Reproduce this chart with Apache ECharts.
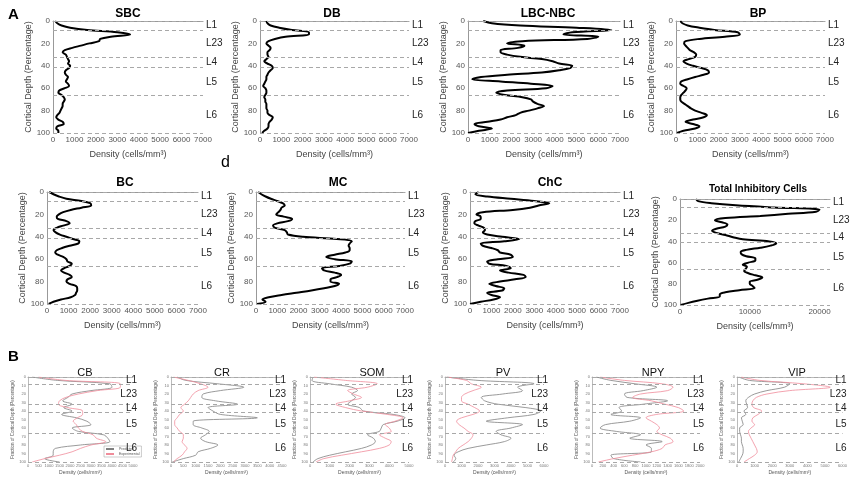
<!DOCTYPE html>
<html>
<head>
<meta charset="utf-8">
<script src="https://cdn.jsdelivr.net/npm/echarts@6/dist/echarts.min.js"></script>
<style>
html, body { margin: 0; padding: 0; background: #fff; }
#chart { width: 850px; height: 479px; }
</style>
</head>
<body>
<div id="chart"></div>
<script>
// depth samples (percent of cortical depth)
const depthA = [0,2,4,6,8,10,12,14,16,18,20,22,24,26,28,30,32,34,36,38,40,42,44,46,48,50,
                52,54,56,58,60,62,64,66,68,70,72,74,76,78,80,82,84,86,88,90,92,94,96,98,100];
const depthB = [0,4,8,12,16,20,24,28,32,36,40,44,48,52,56,60,64,68,72,76,80,84,88,92,96,100];

// panel A densities (cells/mm3), one value per depthA sample
const sbc = [100,200,400,800,1600,3000,3600,2700,2200,2150,1700,1300,900,550,450,600,650,700,750,700,800,750,600,550,600,700,
             650,600,700,750,550,300,250,400,500,550,500,450,450,400,350,300,200,150,250,450,500,200,150,250,250];
const db = [300,350,500,900,1500,2300,2300,1200,700,400,300,400,500,450,350,350,400,300,200,350,550,600,500,400,350,300,
            300,250,200,150,250,300,300,250,200,250,250,300,300,300,350,350,450,600,550,450,400,400,350,200,100];
const lbc = [700,1100,2400,5000,6600,4800,4400,6000,5500,2500,1800,2600,2300,1500,1500,1800,2400,3400,3900,4200,4800,4700,4200,3400,1800,600,
             200,1500,2900,3900,3600,1800,1300,1700,2500,2900,3000,3200,3500,3200,2800,2400,2200,1800,1500,900,300,500,1100,500,0];
const bp = [200,300,550,1100,1800,2900,3000,2300,1100,450,380,450,550,650,850,950,900,600,350,500,800,1200,1500,1550,1300,900,
            550,250,200,350,500,450,350,250,200,200,250,400,550,700,900,1200,1450,1300,800,450,800,1100,900,350,50];
const bc = [100,300,550,900,1600,2000,2050,1600,1100,750,550,450,500,900,1050,750,450,300,400,600,900,1200,1500,1450,1050,700,
            450,380,500,750,900,950,1150,1050,800,650,800,1050,1150,950,900,1050,1350,1400,1400,1350,1300,1100,650,300,80];
const mc = [100,250,450,700,1000,1250,1350,1200,1150,1050,950,1300,1700,1500,1000,800,900,1350,1450,1500,2200,3800,4500,4400,4350,4400,
            4400,4200,3700,3300,3700,4500,4400,3900,3100,3200,3700,4000,3800,3500,3500,3900,3700,3200,2600,1900,1200,600,300,450,50];
const chc = [400,250,800,1900,3000,3700,3200,2800,2000,600,300,500,500,250,200,400,650,700,600,800,1500,2300,1600,500,600,1000,
             1300,1400,1900,2000,1300,800,900,1700,1900,1400,1800,2500,2600,2100,1400,900,1200,1600,1500,800,1000,1400,1100,500,0];
const total = [2300,2600,4500,8000,13500,20000,19500,15500,11500,6500,5000,6000,6800,6500,5200,4600,5200,6500,7600,9000,12800,13800,13000,11500,9500,8700,
               8800,9500,10800,10800,9800,9000,9600,9400,9200,9800,10800,11800,11200,10000,10000,10400,10700,8500,6500,5700,5700,4000,2500,1200,100];

// panel B densities, one value per depthB sample
const cbPred = [200,1400,3900,4000,3000,2100,1900,1650,2100,1700,2100,1600,2300,2800,3000,2100,2400,3600,3800,3900,2500,1300,1200,1200,800,1500];
const cbExp  = [500,1800,4400,4400,3300,2400,1800,1500,1450,1900,2600,2600,2350,2150,2300,2400,2600,3100,3250,3700,3000,2500,2100,1500,800,200];
const crPred = [250,600,1900,2950,2000,1300,1250,1800,2700,1500,1700,2000,3500,900,900,1250,1550,1400,1200,1400,1900,1600,1100,1000,500,50];
const crExp  = [100,700,1200,1500,1100,900,800,700,550,400,500,350,250,150,150,250,350,500,500,450,550,650,550,450,250,100];
const somPred = [150,100,1000,2100,2400,2100,2300,2100,1900,2500,2700,4200,4800,4400,3700,3600,3500,2900,3200,3300,3100,2600,1800,1000,400,150];
const somExp  = [200,1800,3400,2900,1900,2200,2600,2000,1300,1800,2600,3900,4700,4300,3800,4000,4100,3500,3800,4100,4000,3500,2600,1600,700,300];
const pvPred = [100,2000,5400,4400,4700,3500,2200,2400,3200,4900,5800,5400,3800,2500,4700,4000,3100,3400,4000,3600,2500,1400,800,550,650,500];
const pvExp  = [100,1300,1600,2200,1700,1200,1000,1000,1400,1800,2100,1700,1000,700,850,1150,1400,1700,1600,1400,1100,800,650,500,450,400];
const npyPred = [80,350,800,1200,950,600,650,1400,950,500,550,350,900,700,250,150,450,900,700,1300,1000,1100,1100,350,400,900];
const npyExp  = [150,600,1300,1500,1400,900,750,1100,1350,1600,1700,1200,1000,1100,1200,1250,1200,1300,1450,1500,1350,1300,1100,750,400,120];
const vipPred = [100,700,3000,2700,1700,1000,650,500,550,600,400,500,250,300,350,150,150,200,250,250,300,350,350,300,200,100];
const vipExp  = [250,1300,3800,5300,3000,1700,1100,900,850,950,1400,1200,900,850,1000,800,650,700,800,900,1000,1100,1150,1000,700,400];

// layer boundaries and label positions
const layerLines = [0, 8, 32, 41, 66, 100];
const layerNames = ['L1', 'L23', 'L4', 'L5', 'L6'];
const layerMids = [3.5, 20, 36.5, 55, 84];

const FONT = 'Liberation Sans, Arial, sans-serif';
const plain = v => String(v);

const panelsA = [
    {title: 'SBC', values: sbc, max: 7000, interval: 1000, box: [53, 21, 150, 112], tx: 123, ty: 3},
    {title: 'DB', values: db, max: 7000, interval: 1000, box: [260, 21, 149, 112], tx: 327, ty: 3},
    {title: 'LBC-NBC', values: lbc, max: 7000, interval: 1000, box: [468, 21, 152, 112], tx: 543, ty: 3},
    {title: 'BP', values: bp, max: 7000, interval: 1000, box: [676, 21, 149, 112], tx: 753, ty: 3},
    {title: 'BC', values: bc, max: 7000, interval: 1000, box: [47, 192, 151, 112], tx: 120, ty: 172},
    {title: 'MC', values: mc, max: 7000, interval: 1000, box: [256, 192, 149, 112], tx: 333, ty: 172},
    {title: 'ChC', values: chc, max: 7000, interval: 1000, box: [470, 192, 150, 112], tx: 545, ty: 172},
    {title: 'Total Inhibitory Cells', values: total, max: 21500, interval: 10000, box: [680, 199, 150, 106], tx: 753, ty: 179, small: true}
];

const panelsB = [
    {title: 'CB', pred: cbPred, exp: cbExp, max: 5000, interval: 500, box: [28, 377, 105, 85], tx: 80},
    {title: 'CR', pred: crPred, exp: crExp, max: 4500, interval: 500, box: [171, 377, 111, 85], tx: 217},
    {title: 'SOM', pred: somPred, exp: somExp, max: 5000, interval: 1000, box: [310, 377, 99, 85], tx: 367},
    {title: 'PV', pred: pvPred, exp: pvExp, max: 6000, interval: 1000, box: [445, 377, 99, 85], tx: 498},
    {title: 'NPY', pred: npyPred, exp: npyExp, max: 2000, interval: 200, box: [592, 377, 108, 85], tx: 648},
    {title: 'VIP', pred: vipPred, exp: vipExp, max: 6000, interval: 1000, box: [737, 377, 106, 85], tx: 792}
];

let grids = [], xAxes = [], yAxes = [], series = [], titles = [];

function layerMarks(max, fontSize, inside) {
    return {
        markLine: {
            silent: true, symbol: 'none', animation: false,
            label: {show: false},
            lineStyle: {color: '#a8a8a8', type: [4, 3], width: 1},
            data: layerLines.map(v => ({yAxis: v}))
        },
        markPoint: {
            silent: true, symbol: 'circle', symbolSize: 0, animation: false,
            label: {
                show: true, formatter: '{b}', fontFamily: FONT, fontSize: fontSize, color: '#222',
                position: inside ? 'left' : 'right', distance: inside ? -4 : 3
            },
            data: layerNames.map((n, k) => ({name: n, coord: [max, layerMids[k]]}))
        }
    };
}

panelsA.forEach((p, i) => {
    grids.push({left: p.box[0], top: p.box[1], width: p.box[2], height: p.box[3]});
    xAxes.push({
        gridIndex: i, type: 'value', min: 0, max: p.max, interval: p.interval,
        name: 'Density (cells/mm³)', nameLocation: 'middle', nameGap: 17,
        nameTextStyle: {fontFamily: FONT, fontSize: 9, color: '#444'},
        axisLine: {lineStyle: {color: '#999'}}, axisTick: {show: false},
        axisLabel: {fontFamily: FONT, fontSize: 8, color: '#555', margin: 3, formatter: plain,
                    showMaxLabel: p.max % p.interval == 0},
        splitLine: {show: false}
    });
    yAxes.push({
        gridIndex: i, type: 'value', inverse: true, min: 0, max: 100, interval: 20,
        name: 'Cortical Depth (Percentage)', nameLocation: 'middle', nameGap: 20,
        nameTextStyle: {fontFamily: FONT, fontSize: 9, color: '#444'},
        axisLine: {show: true, lineStyle: {color: '#999'}}, axisTick: {show: false},
        axisLabel: {fontFamily: FONT, fontSize: 8, color: '#555', margin: 3},
        splitLine: {show: false}
    });
    series.push(Object.assign({
        type: 'line', xAxisIndex: i, yAxisIndex: i, symbol: 'none', smooth: 0.35,
        data: p.values.map((v, k) => [v, depthA[k]]),
        lineStyle: {color: '#000', width: 2}
    }, layerMarks(p.max, 10, false)));
    titles.push({
        text: p.title, left: p.tx, top: p.ty, textAlign: 'center',
        textStyle: {fontFamily: FONT, fontWeight: 'bold', fontSize: p.small ? 10 : 12, color: '#000'}
    });
});

panelsB.forEach((p, j) => {
    let i = panelsA.length + j;
    grids.push({left: p.box[0], top: p.box[1], width: p.box[2], height: p.box[3]});
    xAxes.push({
        gridIndex: i, type: 'value', min: 0, max: p.max, interval: p.interval,
        name: 'Density (cells/mm³)', nameLocation: 'middle', nameGap: 8,
        nameTextStyle: {fontFamily: FONT, fontSize: 5, color: '#555'},
        axisLine: {lineStyle: {color: '#bbb'}}, axisTick: {show: false},
        axisLabel: {fontFamily: FONT, fontSize: 4, color: '#777', margin: 2, formatter: plain},
        splitLine: {show: false}
    });
    yAxes.push({
        gridIndex: i, type: 'value', inverse: true, min: 0, max: 100, interval: 10,
        name: 'Fraction of Cortical Depth (Percentage)', nameLocation: 'middle', nameGap: 13,
        nameTextStyle: {fontFamily: FONT, fontSize: 4.5, color: '#555'},
        axisLine: {show: true, lineStyle: {color: '#bbb'}}, axisTick: {show: false},
        axisLabel: {fontFamily: FONT, fontSize: 4, color: '#777', margin: 2},
        splitLine: {show: false}
    });
    series.push(Object.assign({
        name: 'Predicted', type: 'line', xAxisIndex: i, yAxisIndex: i, symbol: 'none', smooth: 0.35,
        data: p.pred.map((v, k) => [v, depthB[k]]),
        lineStyle: {color: '#808080', width: 0.8}, itemStyle: {color: '#808080'}
    }, layerMarks(p.max, 10, true)));
    series.push({
        name: 'Experimental', type: 'line', xAxisIndex: i, yAxisIndex: i, symbol: 'none', smooth: 0.35,
        data: p.exp.map((v, k) => [v, depthB[k]]),
        lineStyle: {color: '#f08c9a', width: 0.8}, itemStyle: {color: '#f08c9a'}
    });
    titles.push({
        text: p.title, left: p.tx, top: 362, textAlign: 'center',
        textStyle: {fontFamily: FONT, fontWeight: 'normal', fontSize: 11, color: '#111'}
    });
});

// panel letters
titles.push({text: 'A', left: 3, top: 2, textStyle: {fontFamily: FONT, fontWeight: 'bold', fontSize: 15, color: '#000'}});
titles.push({text: 'B', left: 3, top: 344, textStyle: {fontFamily: FONT, fontWeight: 'bold', fontSize: 15, color: '#000'}});
titles.push({text: 'd', left: 216, top: 150, textStyle: {fontFamily: FONT, fontWeight: 'normal', fontSize: 16, color: '#000'}});

let chart = echarts.init(document.getElementById('chart'));
chart.setOption({
    animation: false,
    backgroundColor: '#fff',
    title: titles,
    legend: {
        data: ['Predicted', 'Experimental'],
        orient: 'vertical', left: 104, top: 446,
        itemWidth: 8, itemHeight: 2, itemGap: 1, padding: [1, 2],
        icon: 'rect',
        borderColor: '#999', borderWidth: 0.5, backgroundColor: '#fff',
        textStyle: {fontFamily: FONT, fontSize: 3.5, color: '#555'}
    },
    grid: grids,
    xAxis: xAxes,
    yAxis: yAxes,
    series: series
});
</script>
</body>
</html>
